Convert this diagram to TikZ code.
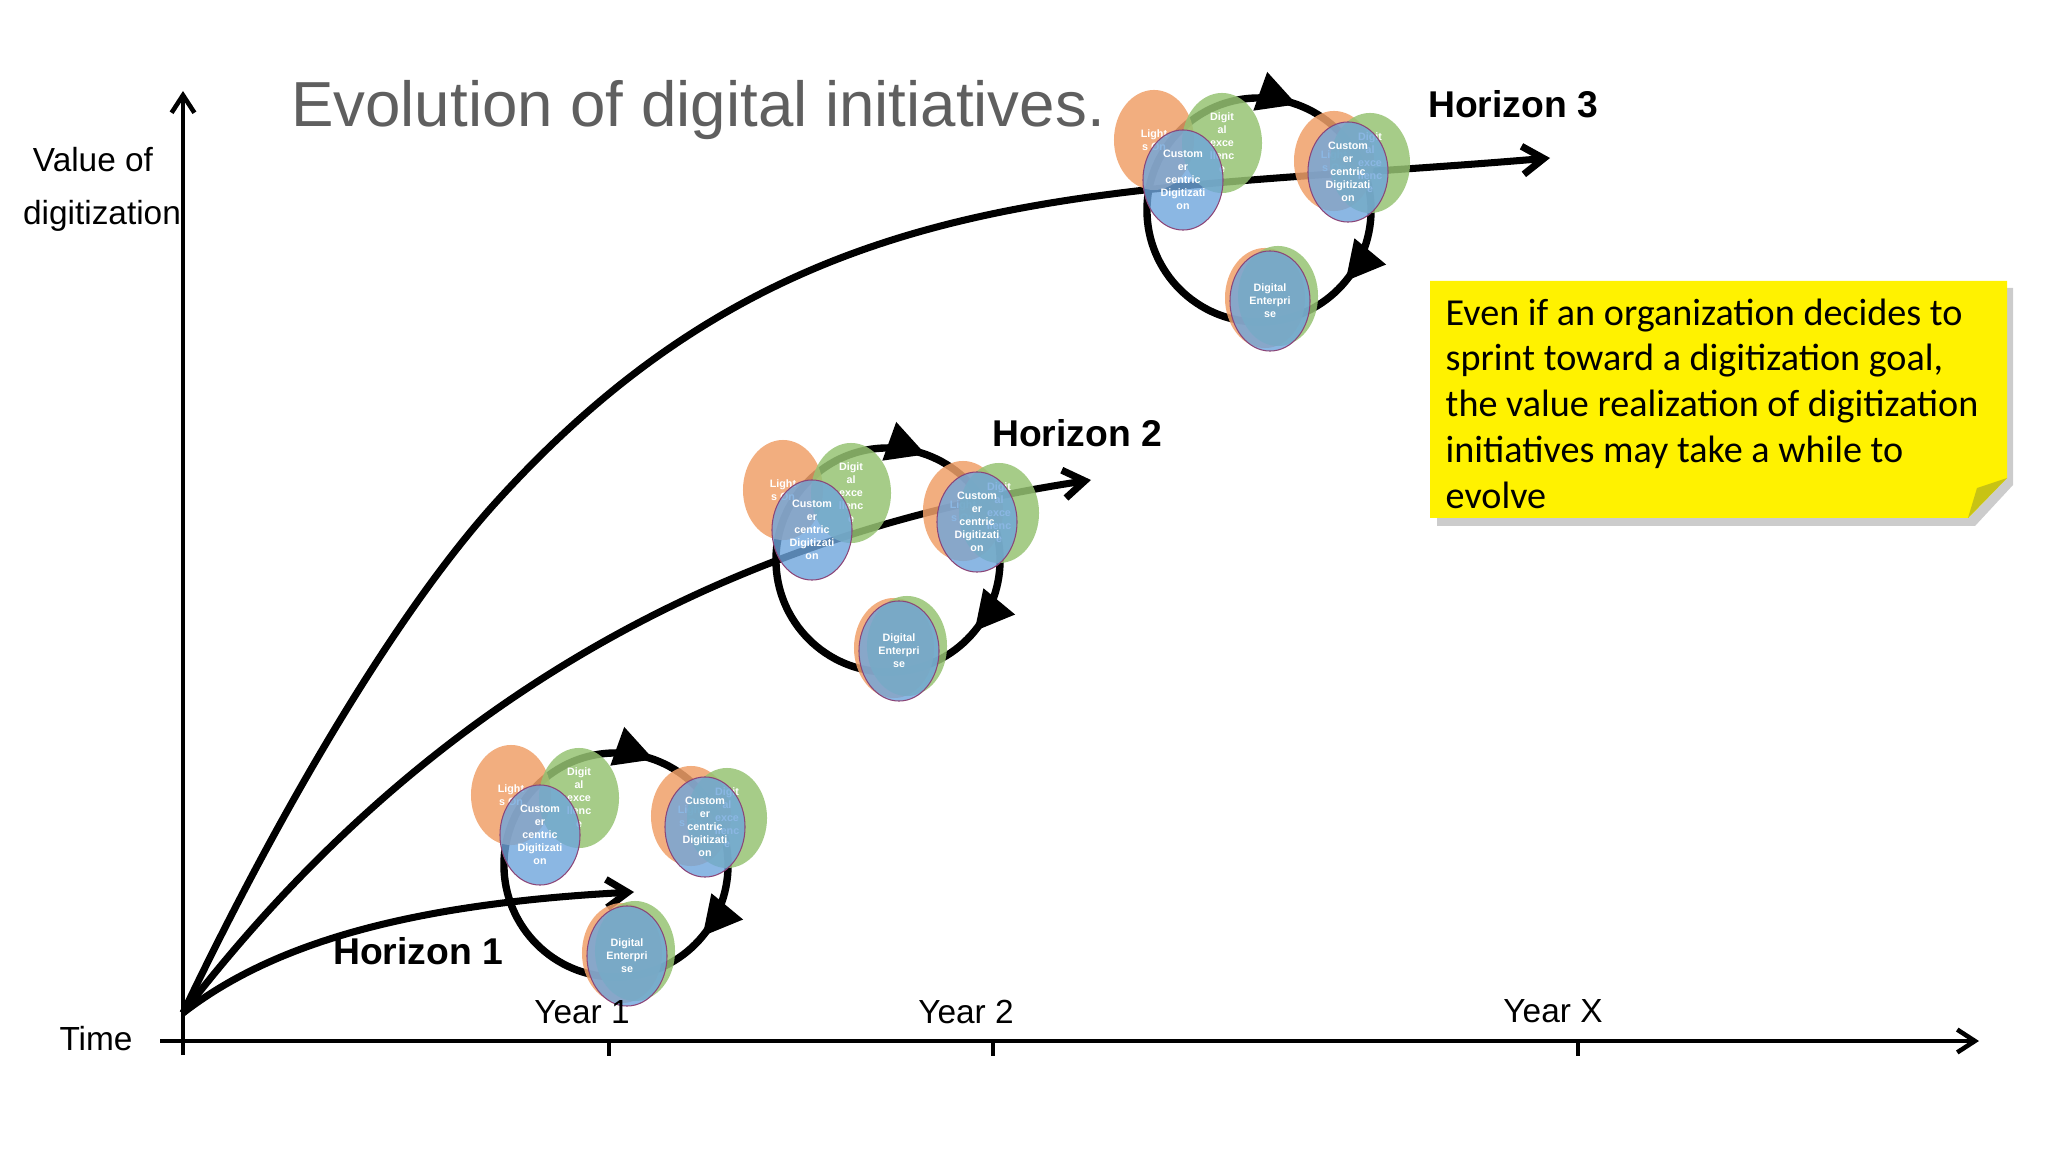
\documentclass[tikz,border=0pt]{standalone}
\usepackage{fontspec}
\setmainfont{Liberation Sans}
\newfontfamily\notefont{Carlito}
\usetikzlibrary{arrows.meta,decorations.markings,shapes.geometric,positioning}

\definecolor{litorange}{RGB}{240,160,105}
\definecolor{excgreen}{RGB}{150,195,115}
\definecolor{custblue}{RGB}{110,165,220}
\definecolor{custedge}{RGB}{140,70,120}
\definecolor{titlegray}{RGB}{95,95,95}
\definecolor{notefold}{RGB}{200,195,20}

\tikzset{
  axisline/.style={line width=1.3pt},
  growth/.style={line width=2pt, -{Straight Barb[length=6pt,width=8pt]}},
  loopring/.style={line width=2.1pt, postaction={decorate},
    decoration={markings,
      mark=at position 0.305 with {\arrow{Triangle[length=0.39cm,width=0.39cm]}},
      mark=at position 0.61 with {\arrow{Triangle[length=0.39cm,width=0.39cm]}}}},
  initiative/.style={ellipse, inner sep=0pt, minimum width=0.8cm, minimum height=1cm,
    fill opacity=0.85, text opacity=1, text=white, align=center,
    font=\fontsize{3.05}{3.7}\selectfont\bfseries},
  lights/.style={initiative, fill=litorange},
  excel/.style={initiative, fill=excgreen},
  cust/.style={initiative, fill=custblue, fill opacity=0.8, draw=custedge, line width=0.3pt},
  axislabel/.style={anchor=base, inner sep=0pt, font=\fontsize{9.5}{11}\selectfont},
  horizon/.style={anchor=base, inner sep=0pt, font=\fontsize{10.6}{12}\selectfont\bfseries},
  title/.style={anchor=base, inner sep=0pt, text=titlegray, font=\fontsize{18.1}{21}\selectfont},
  note/.style={inner sep=0pt, align=left, font=\notefont\fontsize{10.85}{13}\selectfont}
}

\begin{document}
\begin{tikzpicture}[x=0.01cm, y=-0.01cm]
\useasboundingbox (0,0) rectangle (2048,1152);

% axes
\coordinate (o) at (183,1013);
\coordinate (ytop) at (183,91);
\coordinate (ybot) at (183,1055);
\coordinate (xleft) at (160,1041);
\coordinate (xright) at (1979,1041);
\draw[axisline, -{Straight Barb[length=5pt,width=6.5pt]}] (ybot) -- (ytop);
\draw[axisline, -{Straight Barb[length=5pt,width=6.5pt]}] (xleft) -- (xright);
\foreach \t in {609,993,1578}
  \draw[axisline] (\t,1041) -- (\t,1056);

% growth curves
\coordinate (h1end) at (634,892);
\coordinate (h2end) at (1091,480);
\coordinate (h3mid) at (498,500);
\coordinate (h3end) at (1550,158);
\draw[growth] (o) .. controls (272,944) and (408,904) .. (h1end);
\draw[growth] (o) .. controls (433,688) and (741,533) .. (h2end);
\draw[growth] (o) .. controls (273,824) and (393,615) .. (h3mid)
  .. controls (798,170) and (1100,196) .. (h3end);

% initiative cycles
\foreach \cx/\cy/\n in {616/865/1, 888/560/2, 1259/210/3}{
  \begin{scope}[shift={(\cx,\cy)}]
    \draw[loopring] (180:1.12cm) arc[start angle=180, end angle=-180, radius=1.12cm];
    \node[lights] (lightsA\n) at (-105,-70) {Light\\s On};
    \node[excel] (excelA\n) at (-37,-67) {Digit\\al\\exce\\llenc\\e};
    \node[cust] (custA\n) at (-76,-30) {Custom\\er\\centric\\Digitizati\\on};
    \node[lights] (lightsB\n) at (75,-49) {Light\\s On};
    \node[excel] (excelB\n) at (111,-47) {Digit\\al\\exce\\llenc\\e};
    \node[cust] (custB\n) at (89,-38) {Custom\\er\\centric\\Digitizati\\on};
    \node[lights] (lightsC\n) at (6,88) {};
    \node[excel] (excelC\n) at (19,86) {};
    \node[cust] (ent\n) at (11,91) {Digital\\Enterpri\\se};
  \end{scope}
}

% labels
\node[title] (title) at (698,127) {Evolution of digital initiatives.};
\node[axislabel] (yval) at (93,172) {Value of};
\node[axislabel] (ydig) at (102,225) {digitization};
\node[axislabel] (time) at (96,1050) {Time};
\node[axislabel] (year1) at (582,1023) {Year 1};
\node[axislabel] (year2) at (966,1023) {Year 2};
\node[axislabel] (yearx) at (1553,1022) {Year X};
\node[horizon] (hor1) at (418,964) {Horizon 1};
\node[horizon] (hor2) at (1077,447) {Horizon 2};
\node[horizon] (hor3) at (1513,118) {Horizon 3};

% sticky note
\fill[gray!40] (1437,288) -- (2013,288) -- (2013,485) -- (1975,526) -- (1437,526) -- cycle;
\fill[yellow] (1430,281) -- (2007,281) -- (2007,478) -- (1968,518) -- (1430,518) -- cycle;
\fill[notefold] (1968,518) -- (2007,478) -- (1977,488) -- cycle;
\node[note, anchor=north west] (note) at (1445,298)
  {Even if an organization decides to\\sprint toward a digitization goal,\\the value realization of digitization\\initiatives may take a while to\\evolve};
\end{tikzpicture}
\end{document}
